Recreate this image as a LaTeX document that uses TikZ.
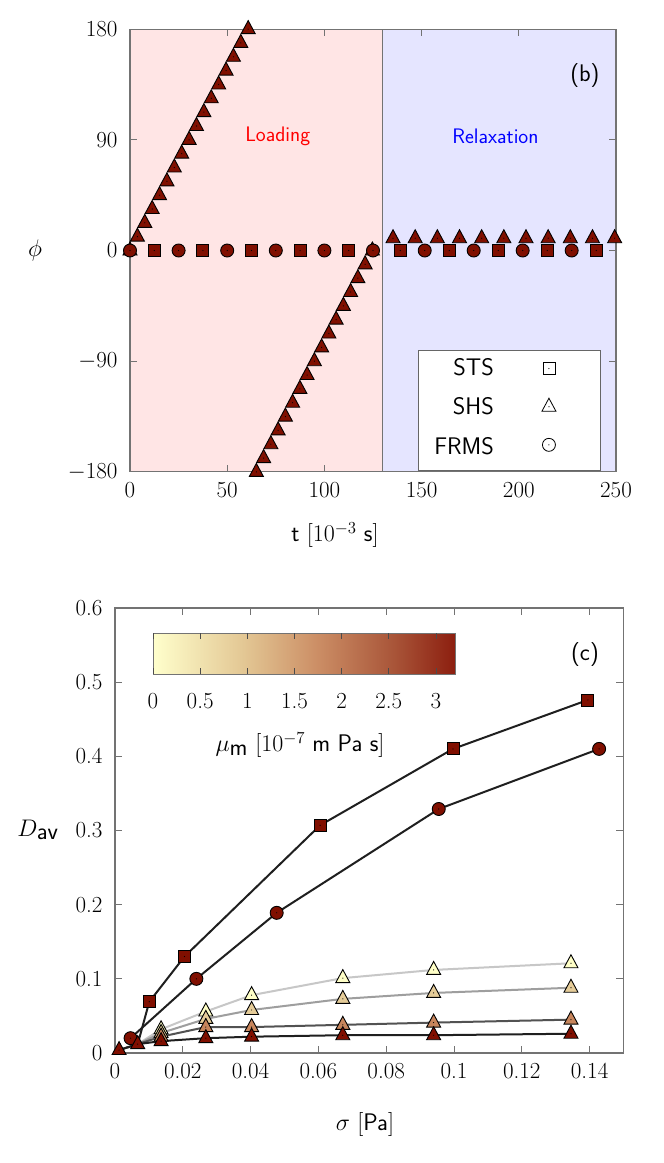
\documentclass[tikz,border=0pt]{standalone}
\usepackage{fix-cm}
\usepackage{tikz}
\definecolor{dred}{rgb}{0.5,0.06,0.0}
\definecolor{pinkbg}{rgb}{1,0.9,0.9}
\definecolor{bluebg}{rgb}{0.9,0.9,1}
\definecolor{cbA}{rgb}{1,1,0.8}
\definecolor{cbB}{rgb}{0.89,0.78,0.58}
\definecolor{cbC}{rgb}{0.8,0.56,0.4}
\definecolor{cbD}{rgb}{0.66,0.33,0.22}
\definecolor{cbE}{rgb}{0.55,0.12,0.06}
\definecolor{tA}{rgb}{1,1,0.78}
\definecolor{tB}{rgb}{0.9,0.8,0.6}
\definecolor{tC}{rgb}{0.78,0.52,0.36}
\pgfdeclarehorizontalshading{cbar}{100bp}{color(0bp)=(cbA); color(25bp)=(cbA); color(40bp)=(cbB); color(52bp)=(cbC); color(65bp)=(cbD); color(75bp)=(cbE); color(100bp)=(cbE)}
\tikzset{
  mk/.style={draw=black,line width=0.9pt,fill=dred},
  frame/.style={draw=black!55,line width=1.1pt},
  tk/.style={draw=black!55,line width=0.9pt},
  dataline/.style={line width=2pt,line join=round},
  big/.style={font=\fontsize{24}{28}\selectfont},
  sfbig/.style={font=\sffamily\fontsize{24}{28}\selectfont},
  ticklab/.style={font=\fontsize{23}{26}\selectfont},
}
\newcommand\mktri[2]{\path[mk,#2] #1 ++(-7pt,-4.5pt) -- ++(14pt,0pt) -- ++(-7pt,13pt) -- cycle; \fill #1 circle (0.6pt);}
\newcommand\mksq[2]{\path[mk,#2] #1 ++(-6pt,-6pt) rectangle ++(12pt,12pt); \fill #1 circle (0.6pt);}
\newcommand\mkci[2]{\path[mk,#2] #1 circle (6.5pt); \fill #1 circle (0.6pt);}
\begin{document}
\begin{tikzpicture}[x=1pt,y=-1pt]
\useasboundingbox[fill=white] (0,0) rectangle (664,1163);
% ===== top plot =====
\begin{scope}[shift={(130,250.5)},x=1.944pt,y=1.23pt]
\fill[pinkbg] (0,-180) rectangle (130,180);
\fill[bluebg] (130,-180) rectangle (250,180);
\draw[tk] (130,-180) -- (130,180);
\foreach \t in {0,50,...,250} {
  \draw[tk] (\t,-180) -- ++(0,7pt); \draw[tk] (\t,180) -- ++(0,-7pt);
  \node[anchor=north,ticklab] at ([yshift=-7pt]\t,-180) {\t};}
\foreach \p/\l in {-180/$-180$,-90/$-90$,0/0,90/90,180/180} {
  \draw[tk] (0,\p) -- ++(7pt,0); \draw[tk] (250,\p) -- ++(-7pt,0);
  \node[anchor=east,ticklab] at ([xshift=-9pt]0,\p) {\l};}
\draw[frame] (0,-180) rectangle (250,180);
\node[red,font=\sffamily\fontsize{21}{24}\selectfont] at (76,93) {Loading};
\node[blue,font=\sffamily\fontsize{21}{24}\selectfont] at (188,93) {Relaxation};
\node[sfbig] at (234,142) {(b)};
\foreach \k in {0,...,16} {\mktri{(3.8*\k,11.25*\k)}{}}
\foreach \j in {0,...,16} {\mktri{(65+3.73*\j,-180+11.25*\j)}{}}
\foreach \k in {0,...,10} {\mktri{(135.3+11.4*\k,10)}{}}
\foreach \k in {0,2,...,10} {\mkci{(12.5*\k,0)}{}}
\foreach \k in {1,3,...,9} {\mksq{(12.5*\k,0)}{}}
\foreach \m in {0,...,4} {\mksq{(139+25.2*\m,0)}{}}
\foreach \m in {0,...,3} {\mkci{(151.6+25.2*\m,0)}{}}
% legend
\draw[fill=white,draw=black!60,line width=0.8pt] (148.5,-178.5) rectangle (242,-81);
\node[anchor=east,sfbig] at (189,-94.5) {STS};
\node[anchor=east,sfbig] at (189,-126.5) {SHS};
\node[anchor=east,sfbig] at (189,-159) {FRMS};
\mksq{(215.5,-96)}{fill=white,line width=0.8pt}
\mktri{(215.5,-127)}{fill=white,line width=0.8pt}
\mkci{(215.5,-158)}{fill=white,line width=0.8pt}
\end{scope}
\node[big] at (35,250) {$\phi$};
\node[big] at (335,535) {\textsf{t} $[10^{-3}$ \textsf{s}$]$};
% ===== bottom plot =====
\begin{scope}[shift={(115,1053)},x=3390pt,y=741.7pt]
\foreach \s/\l in {0/0,0.02/0.02,0.04/0.04,0.06/0.06,0.08/0.08,0.1/0.1,0.12/0.12,0.14/0.14} {
  \draw[tk] (\s,0) -- ++(0,7pt); \draw[tk] (\s,0.6) -- ++(0,-7pt);
  \node[anchor=north,ticklab] at ([yshift=-7pt]\s,0) {\l};}
\foreach \d in {0,0.1,0.2,0.3,0.4,0.5,0.6} {
  \draw[tk] (0,\d) -- ++(7pt,0); \draw[tk] (0.15,\d) -- ++(-7pt,0);
  \node[anchor=east,ticklab] at ([xshift=-9pt]0,\d) {\d};}
\draw[frame] (0,0) rectangle (0.15,0.6);
\end{scope}
% colorbar
\shade[shading=cbar] (153,633) rectangle (455,674);
\draw[draw=black!55,line width=0.8pt] (153,633) rectangle (455,674);
\foreach \v/\l in {0/0,0.5/0.5,1/1,1.5/1.5,2/2,2.5/2.5,3/3} {
  \draw[draw=black!70,line width=0.8pt] (153+94.3*\v,633) -- ++(0,6);
  \draw[draw=black!70,line width=0.8pt] (153+94.3*\v,674) -- ++(0,-6);
  \node[ticklab] at (153+94.3*\v,701) {\l};}
\node[big] at (300,745) {$\mu_{\textsf{m}}$ $[10^{-7}$ \textsf{m Pa s}$]$};
\node[sfbig] at (585,655) {(c)};
\node[big] at (38,830) {$D_{\textsf{av}}$};
\node[big] at (365,1124) {$\sigma$ $[$\textsf{Pa}$]$};
\begin{scope}[shift={(115,1053)},x=3390pt,y=741.7pt]
\draw[dataline,black!22] (0.0012,0.004) -- (0.0067,0.012) -- (0.0136,0.032) -- (0.0268,0.056) -- (0.0403,0.078) -- (0.0672,0.101) -- (0.094,0.112) -- (0.1345,0.121);
\draw[dataline,black!38] (0.0012,0.004) -- (0.0067,0.012) -- (0.0136,0.027) -- (0.0268,0.046) -- (0.0403,0.058) -- (0.0672,0.073) -- (0.094,0.081) -- (0.1345,0.088);
\draw[dataline,black!68] (0.0012,0.004) -- (0.0067,0.012) -- (0.0136,0.022) -- (0.0268,0.035) -- (0.0403,0.035) -- (0.0672,0.038) -- (0.094,0.041) -- (0.1345,0.045);
\draw[dataline,black!88] (0.0012,0.004) -- (0.0067,0.012) -- (0.0136,0.016) -- (0.0268,0.020) -- (0.0403,0.022) -- (0.0672,0.024) -- (0.094,0.024) -- (0.1345,0.026);
\draw[dataline,black!88] (0.0067,0.012) -- (0.0101,0.069) -- (0.0205,0.13) -- (0.0605,0.307) -- (0.0997,0.41) -- (0.1395,0.476);
\draw[dataline,black!88] (0.0046,0.02) -- (0.024,0.1) -- (0.0477,0.189) -- (0.0955,0.329) -- (0.1428,0.41);
\foreach \x/\y in {0.0136/0.032,0.0268/0.056,0.0403/0.078,0.0672/0.101,0.094/0.112,0.1345/0.121} {\mktri{(\x,\y)}{fill=tA}}
\foreach \x/\y in {0.0136/0.027,0.0268/0.046,0.0403/0.058,0.0672/0.073,0.094/0.081,0.1345/0.088} {\mktri{(\x,\y)}{fill=tB}}
\foreach \x/\y in {0.0136/0.022,0.0268/0.035,0.0403/0.035,0.0672/0.038,0.094/0.041,0.1345/0.045} {\mktri{(\x,\y)}{fill=tC}}
\foreach \x/\y in {0.0136/0.016,0.0268/0.020,0.0403/0.022,0.0672/0.024,0.094/0.024,0.1345/0.026} {\mktri{(\x,\y)}{}}
\foreach \x/\y in {0.0101/0.069,0.0205/0.13,0.0605/0.307,0.0997/0.41,0.1395/0.476} {\mksq{(\x,\y)}{}}
\foreach \x/\y in {0.0046/0.02,0.024/0.1,0.0477/0.189,0.0955/0.329,0.1428/0.41} {\mkci{(\x,\y)}{}}
\mktri{(0.0067,0.012)}{}
\mktri{(0.0012,0.004)}{}
\end{scope}
\end{tikzpicture}
\end{document}
